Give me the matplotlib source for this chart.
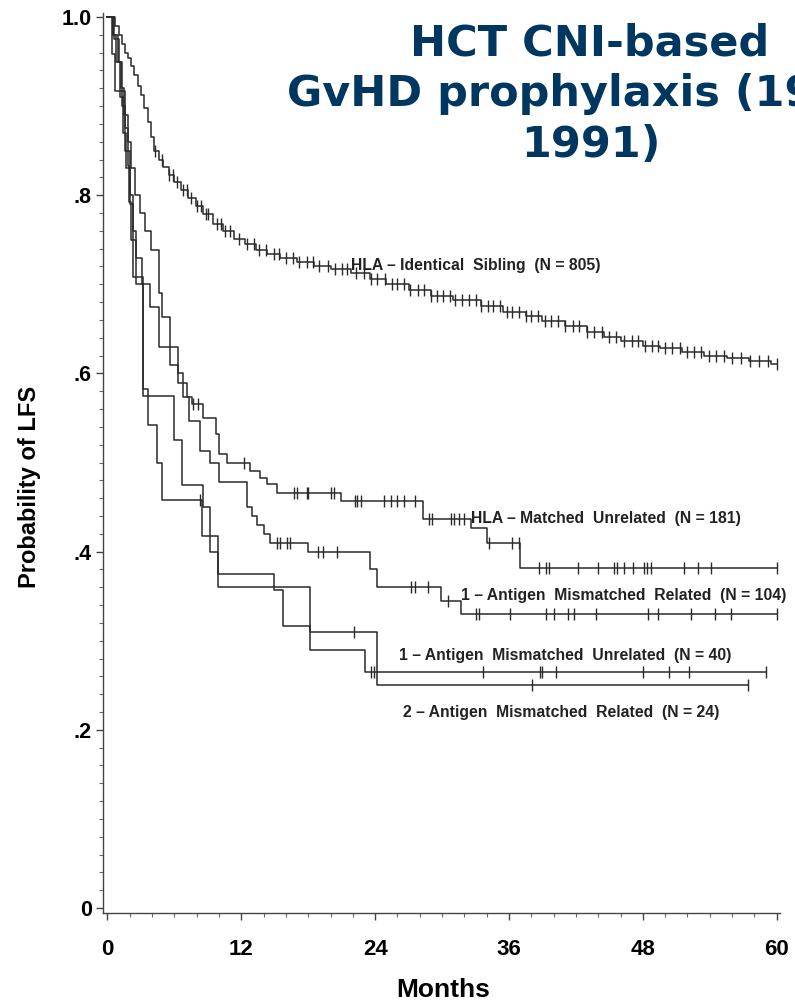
import numpy as np
import matplotlib.pyplot as plt

plt.rcParams['font.family'] = ['Liberation Sans', 'DejaVu Sans']

# Kaplan-Meier step data (months, probability of LFS)
sib_t = [0, 0.7, 1.0, 1.3, 1.6, 1.8, 2.1, 2.4, 2.7, 3.0, 3.3, 3.6, 3.9, 4.2, 4.6, 5.0, 5.5,
         6.0, 6.6, 7.2, 7.9, 8.6, 9.5, 10.4, 11.3, 12.3, 13.3, 14.3, 15.5, 17.0, 18.5, 20.0,
         21.8, 23.5, 25.0, 27.0, 29.0, 31.0, 33.5, 35.5, 37.5, 39.0, 41.0, 43.0, 44.5, 46.0,
         48.0, 49.5, 51.5, 53.5, 55.5, 57.5, 59.5]
sib_s = [1.0, 0.99, 0.98, 0.97, 0.96, 0.954, 0.945, 0.935, 0.922, 0.912, 0.898, 0.882, 0.865,
         0.85, 0.84, 0.832, 0.823, 0.815, 0.806, 0.797, 0.788, 0.779, 0.768, 0.76, 0.751, 0.745,
         0.739, 0.734, 0.73, 0.725, 0.721, 0.717, 0.713, 0.706, 0.70, 0.694, 0.687, 0.682, 0.676,
         0.669, 0.664, 0.659, 0.653, 0.646, 0.641, 0.636, 0.631, 0.628, 0.624, 0.62, 0.617,
         0.614, 0.611]
sib_end = 60.0
sib_cens = [4.3, 4.9, 5.5, 5.9, 6.2, 6.8, 7.1, 7.5, 8.0, 8.4, 8.8, 9.0, 9.8, 10.2, 10.5, 11.0,
            11.8, 12.5, 13.1, 13.6, 14.2, 14.9, 15.4, 16.0, 16.6, 17.2, 17.9, 18.4, 19.0, 19.8,
            20.4, 21.0, 21.5, 22.3, 23.0, 23.6, 24.2, 24.9, 25.5, 26.0, 26.6, 27.1, 27.8, 28.4,
            29.0, 29.5, 30.1, 30.7, 31.2, 31.8, 32.4, 33.0, 33.5, 34.1, 34.6, 35.2, 35.8, 36.3,
            36.9, 37.5, 38.0, 38.6, 39.2, 39.8, 40.4, 41.0, 41.7, 42.3, 43.0, 43.6, 44.3, 45.0,
            45.6, 46.3, 47.0, 47.6, 48.2, 48.8, 49.4, 50.0, 50.6, 51.3, 52.0, 52.6, 53.2, 53.9,
            54.6, 55.3, 56.0, 56.8, 57.6, 58.4, 59.2, 60.0]

mu_t = [0, 0.5, 0.9, 1.2, 1.5, 1.8, 2.1, 2.5, 2.9, 3.4, 3.9, 4.6, 4.9, 5.6, 6.3, 6.8, 7.6,
        8.6, 9.7, 10.0, 10.7, 12.8, 13.7, 14.3, 15.2, 20.9, 28.3, 32.6, 34.0, 37.0]
mu_s = [1.0, 0.98, 0.95, 0.92, 0.89, 0.86, 0.83, 0.80, 0.78, 0.76, 0.738, 0.69, 0.663, 0.63,
        0.60, 0.573, 0.566, 0.55, 0.532, 0.51, 0.499, 0.49, 0.483, 0.476, 0.466, 0.457, 0.437,
        0.426, 0.41, 0.382]
mu_end = 60.0
mu_cens = [7.7, 8.1, 12.2, 16.7, 17.0, 17.9, 18.0, 20.0, 20.3, 22.2, 22.4, 22.7, 24.8, 25.4,
           26.0, 26.6, 27.6, 28.8, 29.1, 30.8, 31.1, 31.5, 32.0, 34.2, 36.3, 36.9, 38.7, 39.3,
           39.6, 42.2, 44.0, 45.4, 45.7, 46.3, 47.1, 48.1, 48.4, 48.7, 51.7, 52.9, 54.1, 60.0]

mmr_t = [0, 0.5, 0.8, 1.1, 1.4, 1.7, 2.0, 2.3, 2.6, 3.1, 3.8, 4.6, 5.6, 6.3, 7.1, 7.3, 8.3,
         9.2, 10.0, 12.5, 13.0, 13.4, 14.0, 14.6, 18.0, 23.5, 24.2, 29.9, 31.7]
mmr_s = [1.0, 0.98, 0.95, 0.91, 0.87, 0.83, 0.79, 0.76, 0.73, 0.70, 0.674, 0.63, 0.61, 0.589,
         0.573, 0.547, 0.513, 0.50, 0.478, 0.45, 0.44, 0.43, 0.42, 0.41, 0.40, 0.38, 0.36,
         0.345, 0.33]
mmr_end = 60.0
mmr_cens = [15.2, 15.5, 16.1, 16.4, 18.9, 19.3, 20.6, 27.2, 27.6, 28.7, 30.5, 33.0, 33.3,
            36.1, 39.3, 40.0, 41.3, 41.8, 43.8, 48.5, 49.4, 52.3, 54.5, 55.9, 60.0]

mmu_t = [0, 0.6, 1.0, 1.3, 1.6, 2.0, 2.3, 2.6, 3.2, 6.0, 6.7, 8.6, 9.2, 9.9, 18.2, 23.1]
mmu_s = [1.0, 0.975, 0.95, 0.9, 0.85, 0.8, 0.75, 0.7, 0.575, 0.525, 0.475, 0.45, 0.4, 0.36,
         0.29, 0.265]
mmu_end = 59.0
mmu_cens = [23.6, 23.9, 33.7, 38.8, 39.0, 40.2, 48.0, 50.3, 52.1, 59.0]

mm2_t = [0, 0.4, 0.7, 1.6, 1.8, 1.9, 2.1, 2.3, 3.2, 3.6, 4.4, 4.9, 8.5, 9.9, 14.9, 15.7,
         18.2, 24.2]
mm2_s = [1.0, 0.958, 0.917, 0.875, 0.833, 0.792, 0.75, 0.708, 0.583, 0.542, 0.5, 0.458,
         0.417, 0.375, 0.357, 0.317, 0.31, 0.25]
mm2_end = 57.4
mm2_cens = [8.3, 22.1, 38.1, 57.4]

curves = [
    (sib_t, sib_s, sib_end, sib_cens, 'HLA – Identical  Sibling  (N = 805)', (21.8, 0.721)),
    (mu_t, mu_s, mu_end, mu_cens, 'HLA – Matched  Unrelated  (N = 181)', (32.6, 0.437)),
    (mmr_t, mmr_s, mmr_end, mmr_cens, '1 – Antigen  Mismatched  Related  (N = 104)', (31.7, 0.351)),
    (mmu_t, mmu_s, mmu_end, mmu_cens, '1 – Antigen  Mismatched  Unrelated  (N = 40)', (26.1, 0.283)),
    (mm2_t, mm2_s, mm2_end, mm2_cens, '2 – Antigen  Mismatched  Related  (N = 24)', (26.5, 0.219)),
]

fig = plt.figure(figsize=(7.95, 10.02), dpi=100)
ax = fig.add_axes([0.1296, 0.0893, 0.8516, 0.8982])

for t, s, end, cens, label, pos in curves:
    tt = np.array(t + [end])
    ss = np.array(s + [s[-1]])
    ax.step(tt, ss, where='post', color='#2a2a2a', lw=1.1)
    c = np.array(cens)
    cy = ss[np.searchsorted(tt, c, side='right') - 1]
    ax.plot(c, cy, ls='none', marker='|', ms=8, mew=1.0, color='#2a2a2a')
    ax.text(pos[0], pos[1], label, fontsize=11.3, fontweight='bold', color='#222222',
            ha='left', va='center', clip_on=False)

ax.set_xlim(-0.4, 60.3)
ax.set_ylim(-0.005, 1.005)
ax.set_xticks([0, 12, 24, 36, 48, 60])
ax.set_xticks(np.arange(0, 61, 2), minor=True)
ax.set_yticks([0, 0.2, 0.4, 0.6, 0.8, 1.0])
ax.set_yticklabels(['0', '.2', '.4', '.6', '.8', '1.0'])
ax.set_yticks(np.arange(0, 1.001, 0.02), minor=True)
for lab in ax.get_xticklabels() + ax.get_yticklabels():
    lab.set_fontweight('bold')
ax.tick_params(axis='both', which='major', direction='out', length=5, width=1, color='#444444')
ax.tick_params(axis='both', which='minor', direction='out', length=3, width=0.8, color='#666666')
ax.tick_params(axis='x', which='major', labelsize=16, pad=14)
ax.tick_params(axis='y', which='major', labelsize=15.5, pad=3)
for side in ['top', 'right']:
    ax.spines[side].set_visible(False)
for side in ['left', 'bottom']:
    ax.spines[side].set_color('#444444')
    ax.spines[side].set_linewidth(1.0)

fig.text(30 / 795, 1 - 487 / 1002, 'Probability of LFS', rotation=90, fontsize=17,
         fontweight='bold', ha='center', va='center')
fig.text(443 / 795, 1 - 990 / 1002, 'Months', fontsize=19, fontweight='bold',
         ha='center', va='center')

# title drawn over the plot; the second line runs off the right edge as in the slide
title_color = '#003760'
fig.text(590 / 795, 1 - 55 / 1002, 'HCT CNI-based', fontsize=31, fontweight='bold',
         family='DejaVu Sans', color=title_color, ha='center', va='baseline')
fig.text(287 / 795, 1 - 106 / 1002, 'GvHD prophylaxis (19', fontsize=31, fontweight='bold',
         family='DejaVu Sans', color=title_color, ha='left', va='baseline')
fig.text(591 / 795, 1 - 157 / 1002, '1991)', fontsize=31, fontweight='bold',
         family='DejaVu Sans', color=title_color, ha='center', va='baseline')

fig.savefig('out.png', dpi=100)
